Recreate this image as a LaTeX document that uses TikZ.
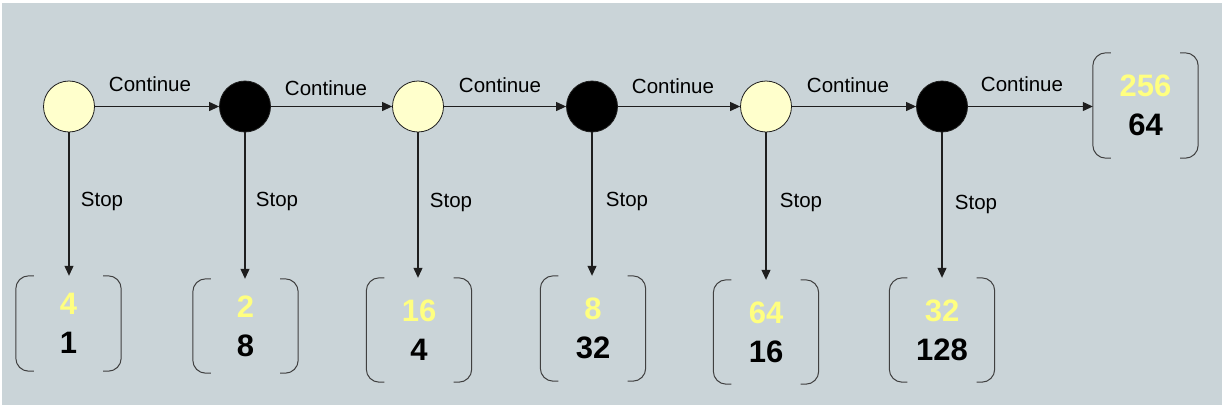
\documentclass[tikz,border=0pt]{standalone}
\usepackage{fontspec}
\setmainfont{Liberation Sans}
\usetikzlibrary{arrows.meta}
\definecolor{bg}{RGB}{202,212,216}
\definecolor{pale}{RGB}{255,255,204}
\definecolor{yel}{RGB}{255,255,128}
\definecolor{ln}{RGB}{30,30,30}
\tikzset{
  st/.style={circle,draw=ln,line width=0.8pt,minimum size=51pt,inner sep=0pt},
  sy/.style={st,fill=pale},
  sb/.style={st,fill=black},
  arr/.style={draw=ln,line width=1.1pt,-{Triangle[length=10pt,width=9pt]}},
  lab/.style={font=\fontsize{20.5}{24}\selectfont,inner sep=0pt},
  res/.style={minimum width=105pt,inner sep=0pt,align=center,font=\fontsize{31}{39}\selectfont\bfseries},
  brk/.style={draw=ln!85,line width=1pt,rounded corners=13pt}
}
\begin{document}
\begin{tikzpicture}[x=1pt,y=-1pt]
\useasboundingbox (0,0) rectangle (1225,410);
\fill[bg] (2,3) rectangle (1222,405);
% states
\node[sy] (c1) at (69,106.5) {};
\node[sb] (c2) at (245,106.5) {};
\node[sy] (c3) at (418,106.5) {};
\node[sb] (c4) at (592,106.5) {};
\node[sy] (c5) at (766,106.5) {};
\node[sb] (c6) at (942,106.5) {};
% result boxes
\node[res,minimum height=95pt] (b1) at (68.5,323.5) {\textcolor{yel}{4}\\1};
\node[res,minimum height=94pt] (b2) at (245.5,326) {\textcolor{yel}{2}\\8};
\node[res,minimum height=104pt] (b3) at (419,330) {\textcolor{yel}{16}\\4};
\node[res,minimum height=105pt] (b4) at (593,328.5) {\textcolor{yel}{8}\\32};
\node[res,minimum height=104pt] (b5) at (766,332) {\textcolor{yel}{64}\\16};
\node[res,minimum height=104pt] (b6) at (942,330) {\textcolor{yel}{32}\\128};
\node[res,minimum height=105pt] (b7) at (1145.5,105.5) {\textcolor{yel}{256}\\64};
\foreach \b in {b1,b2,b3,b4,b5,b6,b7}{
  \draw[brk] ([xshift=18pt]\b.north west) -- (\b.north west) -- (\b.south west) -- ([xshift=18pt]\b.south west);
  \draw[brk] ([xshift=-18pt]\b.north east) -- (\b.north east) -- (\b.south east) -- ([xshift=-18pt]\b.south east);
}
% continue arrows
\draw[arr] (c1) -- (c2);
\draw[arr] (c2) -- (c3);
\draw[arr] (c3) -- (c4);
\draw[arr] (c4) -- (c5);
\draw[arr] (c5) -- (c6);
\draw[arr] (c6) -- (c6 -| b7.west);
\node[lab] (k1) at (150,84) {Continue};
\node[lab] (k2) at (326,88) {Continue};
\node[lab] (k3) at (500,85.5) {Continue};
\node[lab] (k4) at (673,86) {Continue};
\node[lab] (k5) at (848,85) {Continue};
\node[lab] (k6) at (1022,84) {Continue};
% stop arrows
\draw[arr] (c1) -- (c1 |- b1.north);
\draw[arr] (c2) -- (c2 |- b2.north);
\draw[arr] (c3) -- (c3 |- b3.north);
\draw[arr] (c4) -- (c4 |- b4.north);
\draw[arr] (c5) -- (c5 |- b5.north);
\draw[arr] (c6) -- (c6 |- b6.north);
\node[lab] (s1) at (102,201) {Stop};
\node[lab] (s2) at (277,201) {Stop};
\node[lab] (s3) at (451,202) {Stop};
\node[lab] (s4) at (627,201) {Stop};
\node[lab] (s5) at (801,202) {Stop};
\node[lab] (s6) at (976,204) {Stop};
\end{tikzpicture}
\end{document}
